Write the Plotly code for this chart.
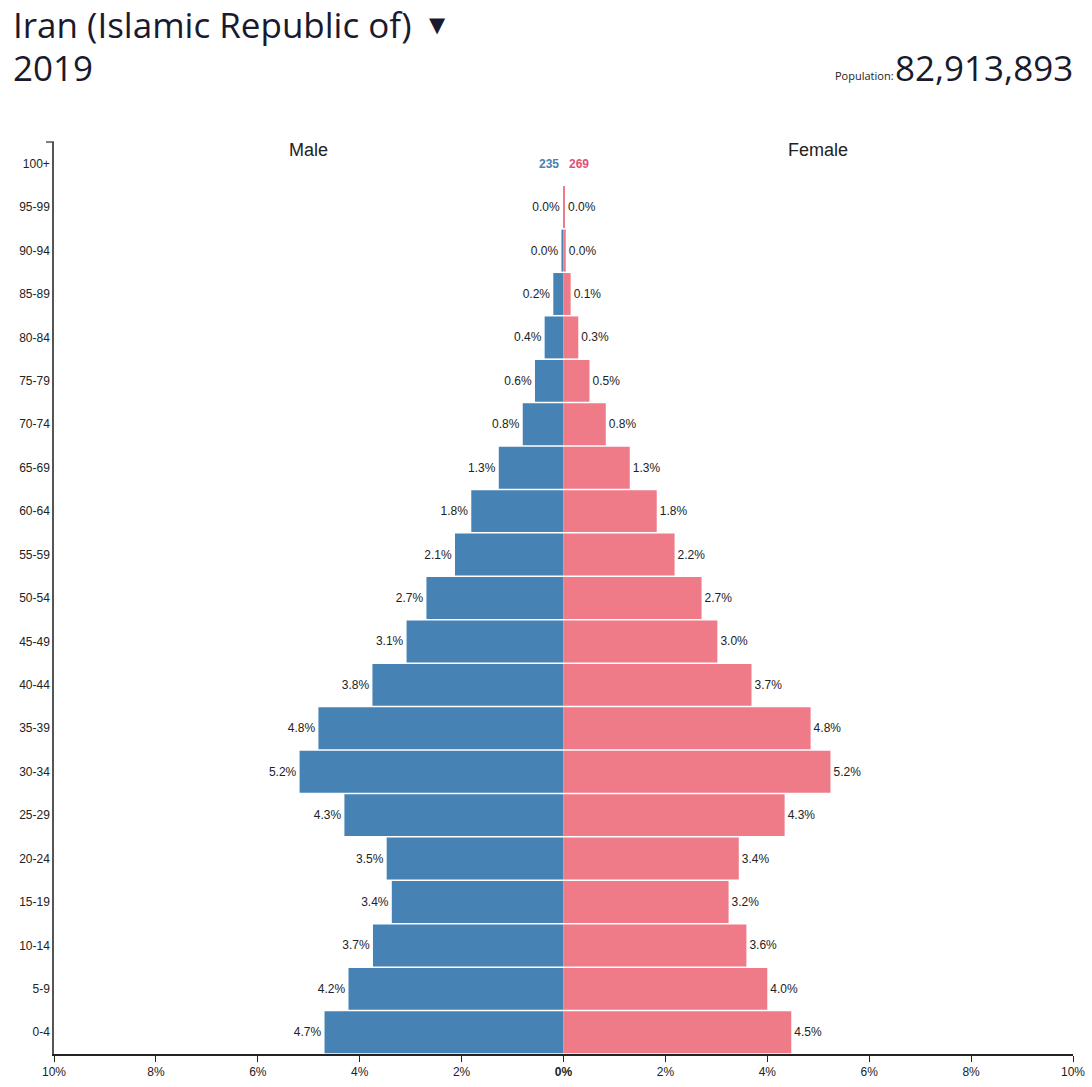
import plotly.graph_objects as go

age_groups = ["0-4", "5-9", "10-14", "15-19", "20-24", "25-29", "30-34", "35-39",
              "40-44", "45-49", "50-54", "55-59", "60-64", "65-69", "70-74", "75-79",
              "80-84", "85-89", "90-94", "95-99", "100+"]
male_pct = [4.69, 4.22, 3.74, 3.37, 3.47, 4.30, 5.18, 4.81, 3.75, 3.08, 2.69, 2.13,
            1.81, 1.27, 0.80, 0.56, 0.37, 0.20, 0.04, 0.006, 0.0]
female_pct = [4.47, 4.00, 3.59, 3.24, 3.44, 4.34, 5.24, 4.85, 3.69, 3.02, 2.71, 2.18,
              1.83, 1.30, 0.83, 0.51, 0.29, 0.14, 0.045, 0.01, 0.0]
male_100 = 235
female_100 = 269
country = "Iran (Islamic Republic of)"
year = "2019"
population = "82,913,893"
tick_vals = [-10, -8, -6, -4, -2, 0, 2, 4, 6, 8, 10]
tick_text = ["10%", "8%", "6%", "4%", "2%", "<b>0%</b>", "2%", "4%", "6%", "8%", "10%"]

MALE = "#4682b4"
FEMALE = "#ef7a88"

W, H = 1092, 1087
L, R, T, B = 54, 19, 142, 33
pw, ph = W - L - R, H - T - B


def px(x):
    return (x - L) / pw


def py(y):
    return (H - B - y) / ph


def lbl(v, name):
    return "" if name == "100+" else f"{v:.1f}%"


fig = go.Figure()
fig.add_trace(go.Bar(
    y=age_groups, x=[-v for v in male_pct], orientation="h", name="Male",
    marker=dict(color=MALE, line=dict(width=0)),
    text=[lbl(v, a) for v, a in zip(male_pct, age_groups)],
    textposition="outside", cliponaxis=False,
    textfont=dict(family="Liberation Sans, Arial", size=12, color="#222"),
))
fig.add_trace(go.Bar(
    y=age_groups, x=female_pct, orientation="h", name="Female",
    marker=dict(color=FEMALE, line=dict(width=0)),
    text=[lbl(v, a) for v, a in zip(female_pct, age_groups)],
    textposition="outside", cliponaxis=False,
    textfont=dict(family="Liberation Sans, Arial", size=12, color="#222"),
))

fig.update_layout(
    template="none",
    width=W, height=H, barmode="overlay", bargap=0.035,
    showlegend=False, plot_bgcolor="white", paper_bgcolor="white",
    margin=dict(l=L, r=R, t=T, b=B, autoexpand=False),
    font=dict(family="Liberation Sans, Arial", size=12, color="#222"),
    xaxis=dict(range=[-10, 10], tickvals=tick_vals, ticktext=tick_text,
               automargin=False,
               showgrid=False, zeroline=False, showline=True, linecolor="#222",
               linewidth=1.5, ticks="outside", ticklen=6, tickcolor="#222",
               tickfont=dict(size=12, color="#222")),
    yaxis=dict(categoryorder="array", categoryarray=age_groups,
               automargin=False,
               range=[-0.5, 20.5], showgrid=False, zeroline=False,
               showline=True, linecolor="#555", linewidth=1.5, ticks="",
               tickfont=dict(size=12, color="#222")),
)

# top end tick of y axis
fig.add_shape(type="line", xref="paper", yref="paper",
              x0=px(46), x1=px(54), y0=1, y1=1,
              line=dict(color="#555", width=1.5))

ann = []
ann.append(dict(text=country, x=px(11), y=py(24), xref="paper", yref="paper",
                xanchor="left", yanchor="middle", showarrow=False,
                font=dict(family="Open Sans", size=35, color="#1a1a2e")))
ann.append(dict(text="▼", x=px(427), y=py(25), xref="paper", yref="paper",
                xanchor="left", yanchor="middle", showarrow=False,
                font=dict(family="DejaVu Sans", size=21, color="#1a1a2e")))
ann.append(dict(text=year, x=px(11), y=py(67), xref="paper", yref="paper",
                xanchor="left", yanchor="middle", showarrow=False,
                font=dict(family="Open Sans", size=35, color="#1a1a2e")))
ann.append(dict(text=population, x=px(1075), y=py(67), xref="paper", yref="paper",
                xanchor="right", yanchor="middle", showarrow=False,
                font=dict(family="Open Sans", size=35, color="#1a1a2e")))
ann.append(dict(text="Population:", x=px(896), y=py(76), xref="paper", yref="paper",
                xanchor="right", yanchor="middle", showarrow=False,
                font=dict(family="Open Sans", size=11, color="#222")))
ann.append(dict(text="Male", x=0.25, y=py(150), xref="paper", yref="paper",
                xanchor="center", yanchor="middle", showarrow=False,
                font=dict(family="Liberation Sans, Arial", size=18, color="#222")))
ann.append(dict(text="Female", x=0.75, y=py(150), xref="paper", yref="paper",
                xanchor="center", yanchor="middle", showarrow=False,
                font=dict(family="Liberation Sans, Arial", size=18, color="#222")))
ann.append(dict(text=f"<b>{male_100}</b>", x=0, y="100+", xref="x", yref="y",
                xanchor="right", yanchor="middle", xshift=-3, showarrow=False,
                font=dict(family="Liberation Sans, Arial", size=12, color=MALE)))
ann.append(dict(text=f"<b>{female_100}</b>", x=0, y="100+", xref="x", yref="y",
                xanchor="left", yanchor="middle", xshift=3, showarrow=False,
                font=dict(family="Liberation Sans, Arial", size=12, color="#e0507a")))
fig.update_layout(annotations=ann)

fig.write_html("out.html", config={"displayModeBar": False},
               post_script="document.body.style.margin='0';")
